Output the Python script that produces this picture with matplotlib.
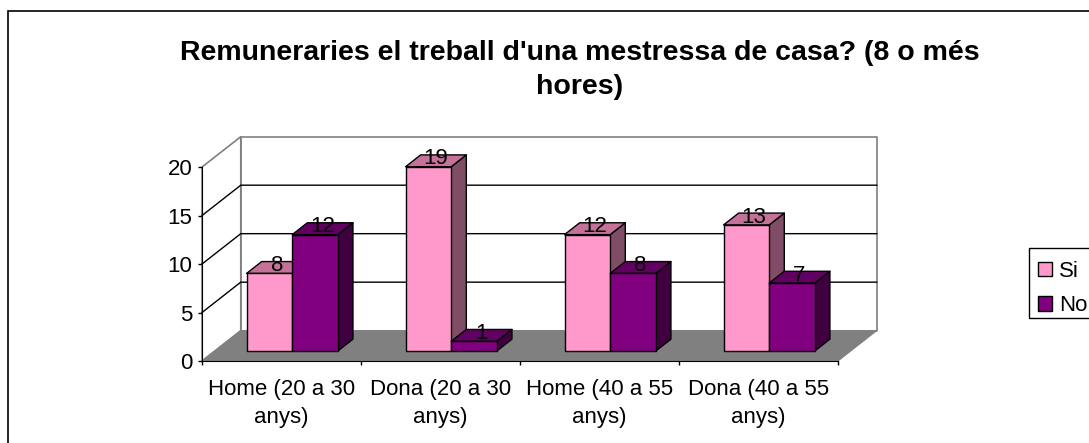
import matplotlib
matplotlib.use("Agg")
import matplotlib.pyplot as plt
from matplotlib.patches import Polygon, Patch, Rectangle

plt.rcParams['font.family'] = ['Liberation Sans', 'DejaVu Sans']

categories = ["Home (20 a 30\nanys)", "Dona (20 a 30\nanys)", "Home (40 a 55\nanys)", "Dona (40 a 55\nanys)"]
si = [8, 19, 12, 13]
no = [12, 1, 8, 7]
yticks = [0, 5, 10, 15, 20]
title = "Remuneraries el treball d'una mestressa de casa? (8 o més\nhores)"

# oblique 3d effect, offsets in data units
DX = 0.2438
DY = 3.13
D0 = 0.33
D1 = 0.72
GROUP_LEFT = 0.2
BAR_W = 0.287

W, H = 1089, 443
fig = plt.figure(figsize=(W / 100, H / 100), dpi=100, facecolor='white')
# frame runs off the right and bottom of the picture
fig.add_artist(Rectangle((8 / W, -20 / H), 1200 / W, (H - 11 + 20) / H, transform=fig.transFigure,
                         fc='none', ec='black', lw=1.2))

ax = fig.add_axes([202 / W, (H - 361) / H, (876.7 - 202) / W, (361 - 136.7) / H])
ax.set_xlim(0, 4 + DX)
ax.set_ylim(0, 20 + DY)
ax.patch.set_visible(False)


def poly(pts, fc, ec='black', lw=1.0, z=2):
    ax.add_patch(Polygon(pts, closed=True, fc=fc, ec=ec, lw=lw, zorder=z, clip_on=False, joinstyle='round'))


# walls and floor
poly([(DX, DY), (4 + DX, DY), (4 + DX, 20 + DY), (DX, 20 + DY)], 'white', '#808080', 1.2, 1)
poly([(0, 0), (DX, DY), (DX, 20 + DY), (0, 20)], 'white', '#808080', 1.2, 1)
poly([(0, 0), (4, 0), (4 + DX, DY), (DX, DY)], '#808080', '#808080', 0.8, 1.5)

# grid
for v in yticks[1:-1]:
    ax.plot([0, DX, 4 + DX], [v, v + DY, v + DY], color='black', lw=1.0, zorder=1.2, clip_on=False)


def bar3d(x, v, front, top, side, z):
    xb = x + D0 * DX
    yb = D0 * DY
    dx = (D1 - D0) * DX
    dy = (D1 - D0) * DY
    poly([(xb + BAR_W, yb), (xb + BAR_W + dx, yb + dy), (xb + BAR_W + dx, yb + dy + v), (xb + BAR_W, yb + v)], side, z=z)
    poly([(xb, yb + v), (xb + BAR_W, yb + v), (xb + BAR_W + dx, yb + v + dy), (xb + dx, yb + v + dy)], top, z=z)
    poly([(xb, yb), (xb + BAR_W, yb), (xb + BAR_W, yb + v), (xb, yb + v)], front, z=z)
    ax.text(xb + BAR_W / 2 + dx / 2, yb + v + dy / 2 + 0.2, str(v), ha='center', va='center',
            fontsize=16, color='black', zorder=10)


for i in range(len(categories)):
    x0 = i + GROUP_LEFT
    bar3d(x0, si[i], '#FF99CC', '#C47299', '#804D66', 3 + i)
    bar3d(x0 + BAR_W, no[i], '#800080', '#600060', '#400040', 3.5 + i)

# axes
for s in ['top', 'right']:
    ax.spines[s].set_visible(False)
ax.spines['left'].set_bounds(0, 20)
ax.spines['bottom'].set_bounds(0, 4)
ax.spines['left'].set_zorder(2.5)
ax.set_yticks(yticks)
ax.set_xticks(range(5))
ax.set_xticklabels([])
ax.set_xticks([i + 0.5 for i in range(4)], minor=True)
ax.set_xticklabels(categories, minor=True, fontsize=16, linespacing=1.42)
ax.tick_params(axis='x', which='minor', length=0, pad=13)
ax.tick_params(axis='x', which='major', length=3, width=1)
ax.tick_params(axis='y', length=3, width=1, labelsize=16, pad=4)

fig.text(580 / W, (H - 70) / H, title, ha='center', va='center', fontsize=20.5, fontweight='bold', linespacing=1.35)

# legend box runs past the right edge, so frame drawn separately
fig.add_artist(Rectangle((1029 / W, (H - 318) / H), 100 / W, 70 / H, transform=fig.transFigure,
                         fc='white', ec='black', lw=1.0))
handles = [Patch(fc='#FF99CC', ec='black', lw=1.0, label='Si'), Patch(fc='#800080', ec='black', lw=1.0, label='No')]
leg = fig.legend(handles=handles, loc='upper left', bbox_to_anchor=(1038 / W, (H - 261) / H), fontsize=16,
                 frameon=False, borderpad=0, borderaxespad=0,
                 handlelength=0.63, handleheight=0.63, handletextpad=0.32, labelspacing=0.6)

fig.savefig("out.png", dpi=100)
